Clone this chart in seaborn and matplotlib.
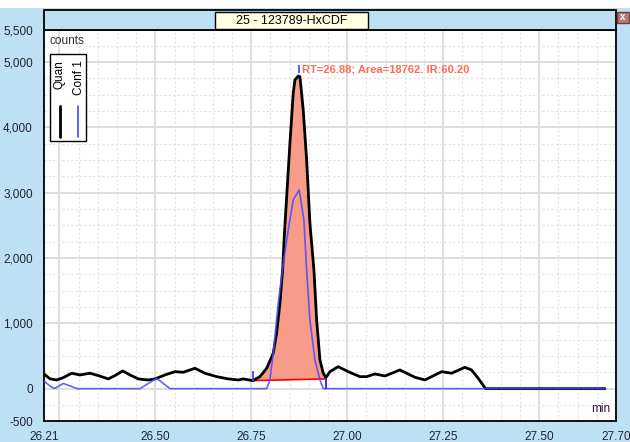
import numpy as np
import pandas as pd
import matplotlib
matplotlib.use("Agg")
import matplotlib.pyplot as plt
import seaborn as sns
from matplotlib.patches import Rectangle
from matplotlib.lines import Line2D
from matplotlib.ticker import MultipleLocator, FixedLocator, StrMethodFormatter

# Quan trace (black)
quan_time = [26.210, 26.2256, 26.2431, 26.2603, 26.2821, 26.3038, 26.3298, 26.3514,
             26.3774, 26.3949, 26.4149, 26.4340, 26.4556, 26.4816, 26.4991, 26.5251,
             26.5511, 26.5728, 26.6032, 26.6293, 26.6597, 26.6900, 26.7160, 26.7290,
             26.7535, 26.7725, 26.7900, 26.8071, 26.8160, 26.8246, 26.8316, 26.8358,
             26.8506, 26.8592, 26.8636, 26.8722, 26.8767, 26.8853, 26.8941, 26.9027,
             26.9131, 26.9202, 26.9288, 26.9374, 26.9444, 26.9548, 26.9764, 27.0024,
             27.0329, 27.0503, 27.0720, 27.0980, 27.1371, 27.1762, 27.2022, 27.2457,
             27.2717, 27.3063, 27.3237, 27.3410, 27.3602, 27.6710]
quan_counts = [225, 150, 133, 169, 236, 210, 236, 200,
               149, 200, 271, 210, 149, 133, 149, 210,
               260, 251, 312, 236, 184, 149, 133, 149,
               123, 184, 312, 542, 848, 1308, 1818, 2328,
               3758, 4524, 4727, 4788, 4778, 4268, 3502, 2530,
               1818, 1052, 440, 236, 170, 260, 337, 260,
               184, 184, 225, 194, 286, 174, 133, 260,
               236, 327, 286, 159, 0, 0]

# Conf 1 trace (blue)
conf_time = [26.210, 26.2301, 26.2386, 26.2603, 26.2967, 26.4600, 26.5035, 26.5381,
             26.7900, 26.7985, 26.8071, 26.8202, 26.8332, 26.8462, 26.8592, 26.8748,
             26.8871, 26.8941, 26.9027, 26.9157, 26.9288, 26.9374, 27.6710]
conf_counts = [115, 21, 5, 80, 0, 0, 159, 0,
               0, 133, 542, 1308, 1920, 2430, 2890, 3043,
               2580, 1818, 1052, 440, 133, 0, 0]

# integrated peak
peak_start = 26.7535
peak_end = 26.9444
base_start = 123
base_end = 150
apex_time = 26.875
apex_top = 4950
apex_bottom = 4840

title = "25 - 123789-HxCDF"
peak_label = "RT=26.88; Area=18762. IR:60.20"
x_labels = [26.21, 26.50, 26.75, 27.00, 27.25, 27.50, 27.70]
y_labels = [-500, 0, 1000, 2000, 3000, 4000, 5000, 5500]

sns.set_style("white")
plt.rcParams["font.family"] = ["Liberation Sans", "DejaVu Sans"]
plt.rcParams["axes.unicode_minus"] = False

W, H = 630, 442
bg = "#BEE0F5"
fig = plt.figure(figsize=(6.3, 4.42), dpi=100, facecolor=bg)


def fx(px):
    return px / W


def fy(py):
    return 1 - py / H


# white strip on top
fig.patches.append(Rectangle((0, fy(8)), 1, 8 / H, transform=fig.transFigure,
                             facecolor="white", edgecolor="none", zorder=0))

ax = fig.add_axes([fx(44), fy(421.3), (616 - 44) / W, (421.3 - 29.5) / H])
ax.set_facecolor("white")

# grid
for g in np.arange(26.25, 27.70, 0.05):
    major = abs((g / 0.25) - round(g / 0.25)) < 1e-6
    ax.axvline(g, color="#DADADA" if major else "#E2E2E2", lw=1.3 if major else 0.8,
               ls="-" if major else (0, (2, 2)), zorder=0)
for g in np.arange(-250, 5500, 250):
    major = g % 1000 == 0
    ax.axhline(g, color="#DADADA" if major else "#E2E2E2", lw=1.3 if major else 0.8,
               ls="-" if major else (0, (2, 2)), zorder=0)

# peak area
t = np.array(quan_time)
c = np.array(quan_counts)
mask = (t >= peak_start) & (t <= peak_end)
base = np.interp(t[mask], [peak_start, peak_end], [base_start, base_end])
ax.fill_between(t[mask], base, c[mask], color="#F89C8A", lw=0, zorder=1)
ax.plot([peak_start, peak_end], [base_start, base_end], color="red", lw=1.2, zorder=2)

quan = pd.DataFrame({"time": quan_time, "counts": quan_counts})
conf = pd.DataFrame({"time": conf_time, "counts": conf_counts})
sns.lineplot(data=quan, x="time", y="counts", ax=ax, color="black", lw=2, zorder=3,
             sort=False, solid_joinstyle="round", solid_capstyle="round")
sns.lineplot(data=conf, x="time", y="counts", ax=ax, color="#4848FF", lw=1.2,
             alpha=0.85, zorder=4, sort=False, solid_joinstyle="round")

# peak markers
ax.vlines(peak_start, base_start, 270, color="#4848FF", lw=1.3, zorder=5)
ax.vlines(peak_end, 0, 170, color="#2020E0", lw=1.3, zorder=5)
ax.vlines(apex_time, apex_bottom, apex_top, color="#4848FF", lw=1.3, zorder=5)
ax.text(apex_time + 0.008, 4890, peak_label, color="#FF6A55", fontsize=8,
        fontweight="bold", va="center", ha="left", zorder=6)

ax.set_xlim(26.21, 27.70)
ax.set_ylim(-500, 5500)
ax.xaxis.set_major_locator(FixedLocator(x_labels))
ax.xaxis.set_minor_locator(MultipleLocator(0.05))
ax.yaxis.set_major_locator(FixedLocator(y_labels))
ax.yaxis.set_minor_locator(MultipleLocator(250))
ax.xaxis.set_major_formatter(StrMethodFormatter("{x:.2f}"))
ax.yaxis.set_major_formatter(StrMethodFormatter("{x:,.0f}"))
ax.tick_params(axis="both", which="major", direction="out", length=5, width=1,
               color="black", labelsize=8.5, labelcolor="#223")
ax.tick_params(axis="both", which="minor", direction="out", length=3, width=1,
               color="black")
ax.tick_params(axis="y", pad=3)
ax.tick_params(axis="x", pad=2)
ax.set_xlabel("")
ax.set_ylabel("")
for s in ax.spines.values():
    s.set_color("black")
    s.set_linewidth(1.3)
    s.set_visible(True)

# title band
fig.patches.append(Rectangle((fx(44), fy(29.5)), (616 - 44) / W, (29.5 - 10) / H,
                             transform=fig.transFigure, facecolor=bg,
                             edgecolor="black", lw=1.3, zorder=1))
fig.patches.append(Rectangle((fx(215), fy(29)), (368 - 215) / W, (29 - 12) / H,
                             transform=fig.transFigure, facecolor="#FFFFE1",
                             edgecolor="black", lw=1, zorder=2))
fig.text(fx(291.5), fy(20.5), title, ha="center", va="center", fontsize=9,
         color="black", zorder=3)

# close button
fig.patches.append(Rectangle((fx(617), fy(23)), 12 / W, 11 / H, transform=fig.transFigure,
                             facecolor="#B87878", edgecolor="#704040", lw=1, zorder=2))
fig.text(fx(623), fy(17.5), "x", ha="center", va="center", fontsize=7,
         color="white", fontweight="bold", zorder=3)

# axis captions
fig.text(fx(50), fy(41.5), "counts", ha="left", va="center", fontsize=8.5, color="#333")
fig.text(fx(610), fy(409), "min", ha="right", va="center", fontsize=8.5, color="#301030")

# legend
fig.patches.append(Rectangle((fx(50), fy(141)), 36 / W, 87 / H, transform=fig.transFigure,
                             facecolor="white", edgecolor="black", lw=1, zorder=5))
fig.text(fx(60), fy(60), "Quan", rotation=90, ha="center", va="top", fontsize=8.5,
         color="black", zorder=6)
fig.text(fx(78.5), fy(60), "Conf 1", rotation=90, ha="center", va="top", fontsize=8.5,
         color="black", zorder=6)
fig.lines.append(Line2D([fx(60), fx(60)], [fy(106), fy(137)], transform=fig.transFigure,
                        color="black", lw=2, zorder=6))
fig.lines.append(Line2D([fx(78), fx(78)], [fy(106), fy(137)], transform=fig.transFigure,
                        color="#4848FF", lw=1.2, zorder=6))

fig.savefig("out.png", dpi=100, facecolor=bg)
